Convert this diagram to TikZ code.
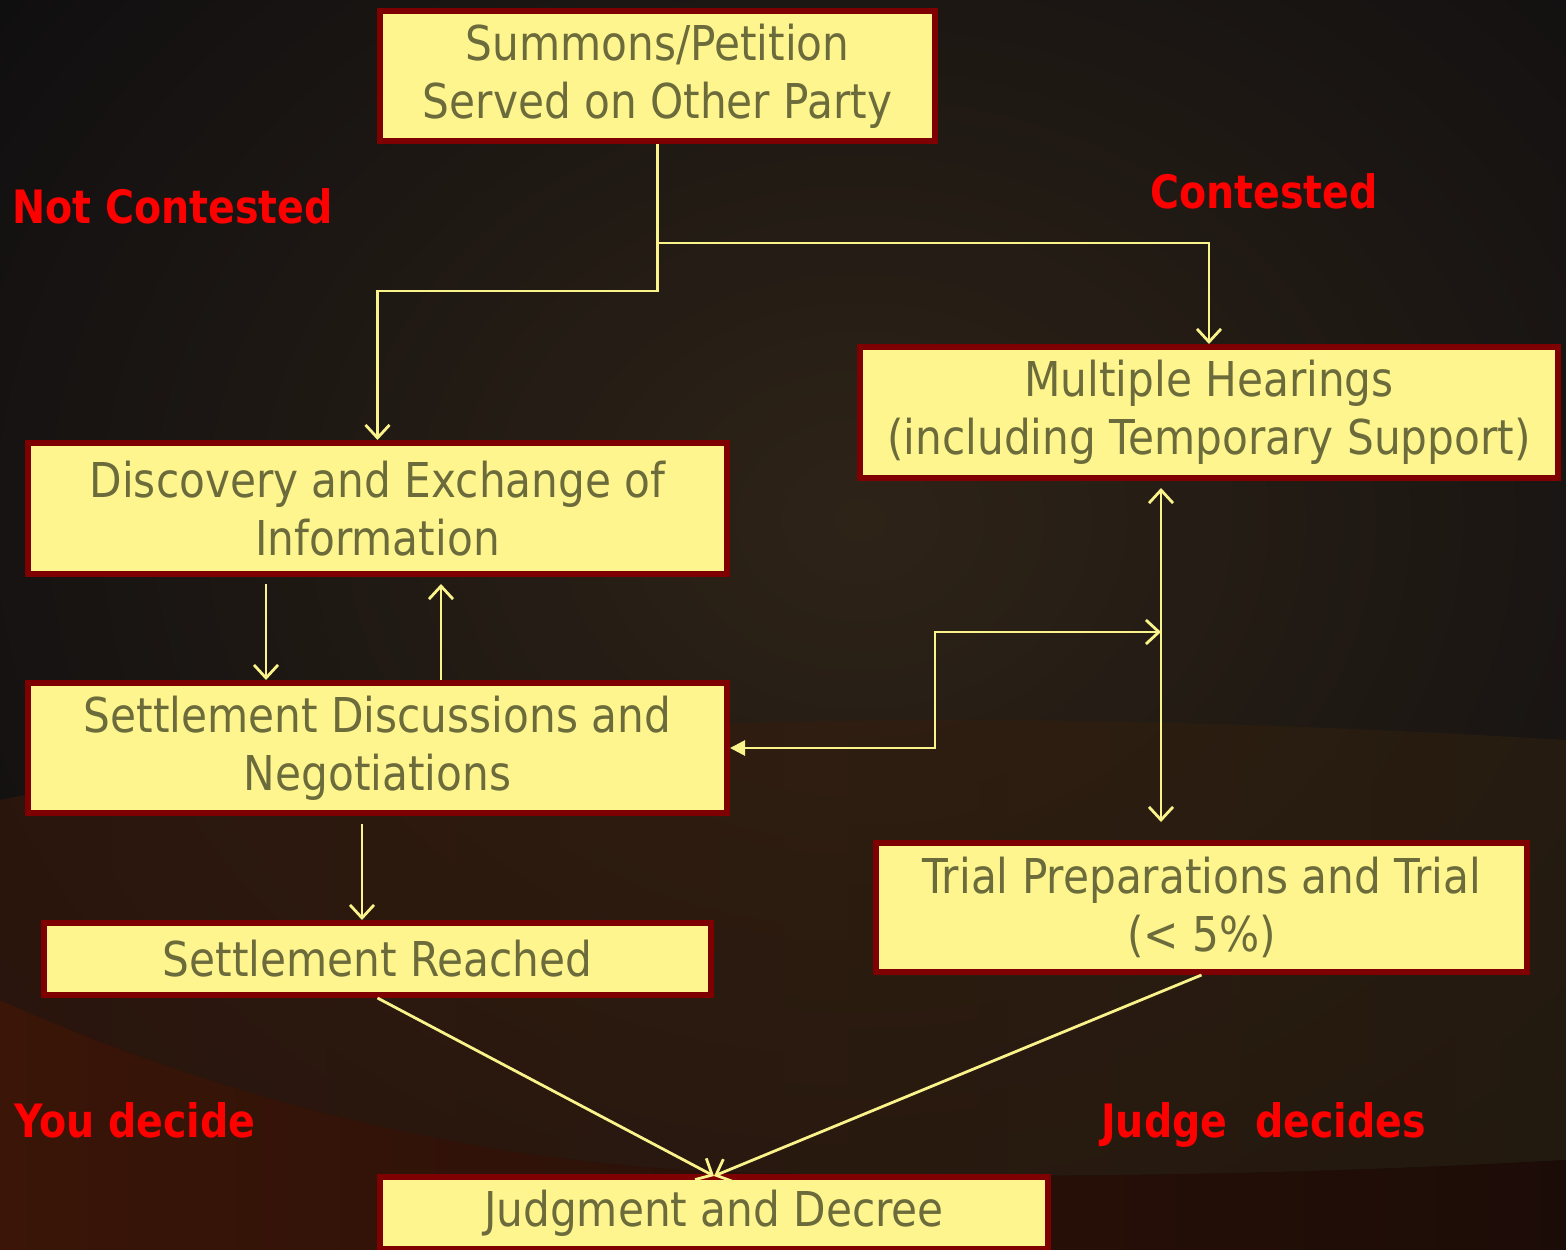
\documentclass[tikz,border=0pt]{standalone}
\usepackage{fontspec}
\usetikzlibrary{arrows.meta}
\newfontfamily\boxfont{DejaVu Sans}[FakeStretch=0.88]
\newfontfamily\labfont{DejaVu Sans}[FakeStretch=0.86]
\definecolor{boxfill}{HTML}{FFF58F}
\definecolor{boxline}{HTML}{7F0000}
\definecolor{boxtext}{HTML}{6B6B3B}
\definecolor{linecol}{HTML}{FAF28A}
\definecolor{labred}{HTML}{FF0000}
\definecolor{bgdark}{HTML}{0F0E10}
\definecolor{bgmid}{HTML}{2E2317}
\definecolor{bandleft}{HTML}{3A190B}
\definecolor{bandright}{HTML}{2E200F}
\definecolor{lowleft}{HTML}{3A1508}
\definecolor{lowright}{HTML}{1C0C07}
\tikzset{
  box/.style={draw=boxline, line width=6pt, fill=boxfill, text=boxtext,
    font=\boxfont\fontsize{48}{58}\selectfont, align=center, inner sep=0pt},
  conn/.style={draw=linecol, line width=2.8pt},
  barb/.tip={Straight Barb[length=13pt,width=24pt]},
  tri/.tip={Triangle[length=15pt,width=15pt]},
  lab/.style={text=labred, font=\labfont\bfseries\fontsize{46}{50}\selectfont, inner sep=0pt}
}
\begin{document}
\begin{tikzpicture}[x=1pt,y=-1pt]
% background
\useasboundingbox (0,0) rectangle (1566,1250);
\begin{scope}
\clip (0,0) rectangle (1566,1250);
\fill[bgdark] (0,0) rectangle (1566,1250);
\shade[inner color=bgmid, outer color=bgdark] (860,520) ellipse [x radius=1100, y radius=900];
\shade[left color=bandleft, right color=bandright, opacity=0.6]
  (0,800) .. controls (400,720) and (900,700) .. (1566,740)
  -- (1566,1160) .. controls (1300,1175) and (1000,1180) .. (720,1172)
  .. controls (450,1160) and (200,1090) .. (0,1000) -- cycle;
\shade[left color=lowleft, right color=lowright]
  (0,1000) .. controls (200,1090) and (450,1160) .. (720,1172)
  .. controls (1000,1180) and (1300,1175) .. (1566,1160)
  -- (1566,1250) -- (0,1250) -- cycle;
\end{scope}

% boxes
\node[box, minimum width=555pt, minimum height=130pt] (sum) at (657.5,76) {Summons/Petition\\Served on Other Party};
\node[box, minimum width=699pt, minimum height=131pt] (disc) at (377.5,508.5) {Discovery and Exchange of\\Information};
\node[box, minimum width=699pt, minimum height=130pt] (sett) at (377.5,748) {Settlement Discussions and\\Negotiations};
\node[box, minimum width=667pt, minimum height=72pt] (reach) at (377.5,959) {Settlement Reached};
\node[box, minimum width=698pt, minimum height=131pt] (hear) at (1209,412.5) {Multiple Hearings\\(including Temporary Support)};
\node[box, minimum width=651pt, minimum height=129pt] (trial) at (1201.5,907.5) {Trial Preparations and Trial\\(< 5\%)};
\node[box, minimum width=668pt, minimum height=72pt] (jud) at (714,1213) {Judgment and Decree};

% labels
\node[lab, anchor=base west] (nc) at (12,223) {Not Contested};
\node[lab, anchor=base west] (co) at (1150,208) {Contested};
\node[lab, anchor=base west] (yd) at (14,1137) {You decide};
\node[lab, anchor=base west] (jd) at (1101,1137) {Judge\ \ decides};

% connectors
\coordinate (vx) at (1161,632);
\draw[conn, -barb] (sum.south) -- ++(0,147) -| (disc.north);
\draw[conn, -barb] (sum.south) ++(0,99) -| (hear.north);
\draw[conn, -barb, shorten <=7pt] ([xshift=-111.5pt]disc.south) -- ([xshift=-111.5pt]sett.north);
\draw[conn, -barb, shorten >=7pt] ([xshift=63.5pt]sett.north) -- ([xshift=63.5pt]disc.south);
\draw[conn, -barb, shorten <=8pt] ([xshift=-15.5pt]sett.south) -- ([xshift=-15.5pt]reach.north);
\draw[conn, barb-barb, shorten <=7pt, shorten >=18pt] (hear.south -| vx) -- (trial.north -| vx);
\draw[conn, tri-barb] (sett.east) -- ++(205,0) |- (vx);
\draw[conn, -barb] (reach.south) -- ([yshift=-2pt]jud.north);
\draw[conn, -barb] (trial.south) -- ([yshift=-2pt]jud.north);
\end{tikzpicture}
\end{document}
